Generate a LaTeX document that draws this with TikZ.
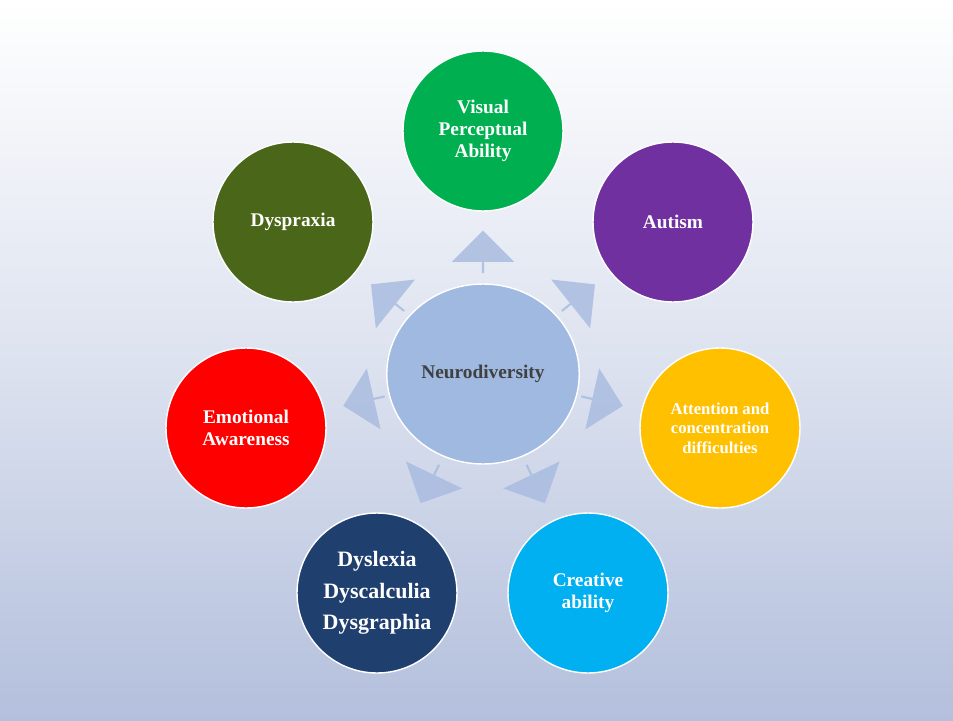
\documentclass[tikz,border=0pt]{standalone}
\usepackage{fontspec}
\setmainfont{Liberation Serif}
\usetikzlibrary{shapes.arrows,shapes.geometric,positioning,calc}
\definecolor{bgbot}{HTML}{B3BFDC}
\definecolor{hub}{HTML}{A0B9E0}
\definecolor{arr}{HTML}{A9BCE0}
\definecolor{cvisual}{HTML}{00B050}
\definecolor{cautism}{HTML}{7030A0}
\definecolor{cattn}{HTML}{FFC000}
\definecolor{ccreat}{HTML}{00B0F0}
\definecolor{cdys}{HTML}{1F3F6E}
\definecolor{cemo}{HTML}{FF0000}
\definecolor{cprax}{HTML}{4A6618}

\begin{document}
\begin{tikzpicture}[x=0.02cm,y=-0.02cm,
    topic/.style={circle, draw=white, line width=0.8pt, minimum size=3.2cm, text=white, font=\bfseries\fontsize{11}{12.5}\selectfont, align=center, inner sep=1pt},
    flow/.style={single arrow, fill=arr, opacity=0.85, minimum width=1.25cm, minimum height=0.85cm, single arrow head extend=0.2cm, inner sep=0pt}
]
    % Background
    \shade[top color=white, bottom color=bgbot, middle color=white!55!bgbot] (0,0) rectangle (953,720);
    \useasboundingbox (0,0) rectangle (953,720);

    % Hub
    \node[ellipse, draw=white, line width=0.8pt, fill=hub, minimum width=3.85cm, minimum height=3.6cm, font=\bfseries\fontsize{11}{13}\selectfont, text=black!75] (hub) at (483,374) {Neurodiversity};

    % Topic circles
    \node[topic, fill=cvisual] (visual) at (483,131) {Visual\\Perceptual\\Ability};
    \node[topic, fill=cautism] (autism) at (673,222) {Autism};
    \node[topic, fill=cattn, font=\bfseries\fontsize{9.5}{11}\selectfont] (attn) at (720,428) {Attention and\\concentration\\difficulties};
    \node[topic, fill=ccreat] (creat) at (588,593) {Creative\\ability};
    \node[topic, fill=cdys, font=\bfseries\fontsize{12.5}{16}\selectfont] (dys) at (377,593) {Dyslexia\\[2pt]Dyscalculia\\[2pt]Dysgraphia};
    \node[topic, fill=cemo] (emo) at (246,428) {Emotional\\Awareness};
    \node[topic, fill=cprax] (prax) at (293,222) {Dyspraxia};

    % Flow arrows
    \foreach \t/\a in {visual/90, autism/38.7, attn/-12.8, creat/-64.4, dys/-115.6, emo/192.8, prax/141.3}
        \node[flow, rotate=\a] (arr-\t) at ($(hub)!0.5!(\t)$) {};
\end{tikzpicture}
\end{document}
